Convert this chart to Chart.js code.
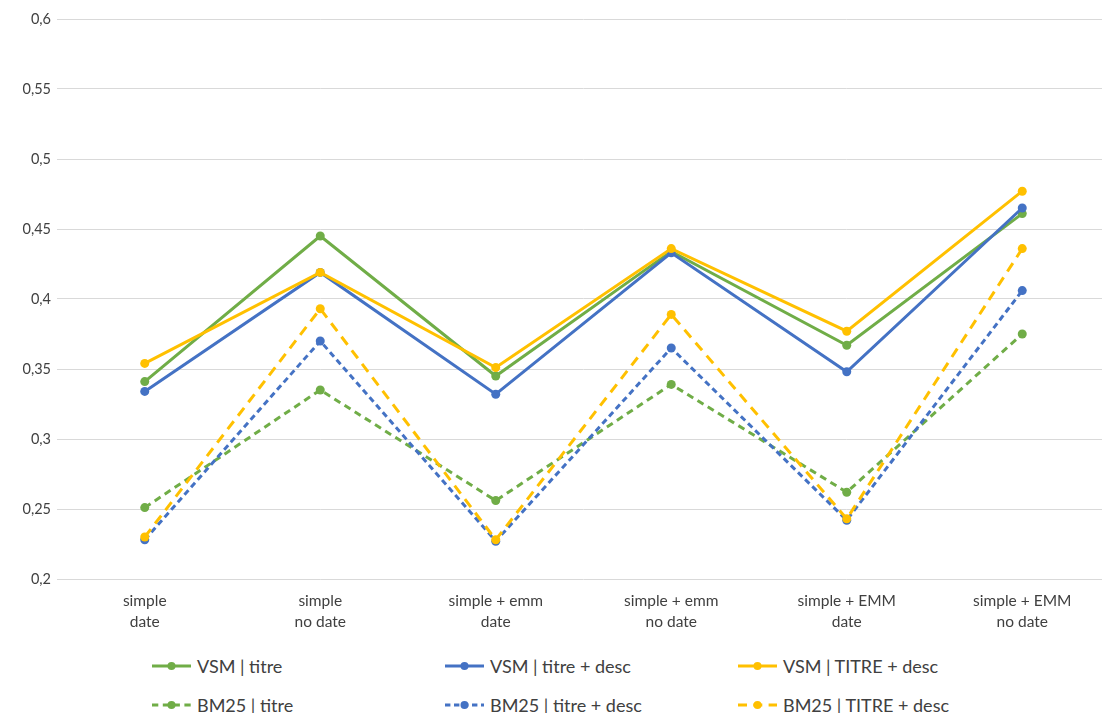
<!DOCTYPE html>
<html lang="fr">
<head>
    <meta charset="UTF-8">
    <title>VSM vs BM25</title>
    <script src="https://cdn.jsdelivr.net/npm/chart.js"></script>
    <style>
        body {
            margin: 0;
            padding: 0;
            background-color: #fff;
            overflow: hidden;
            font-family: Lato, "Open Sans", sans-serif;
        }
        #zone {
            position: relative;
            width: 1102px;
            height: 713px;
            overflow: hidden;
        }
        #graphique {
            position: absolute;
            left: 0;
            top: 0;
        }
        #legende {
            position: absolute;
            left: 152px;
            top: 655px;
            display: grid;
            grid-template-columns: 293px 293px 293px;
            row-gap: 17px;
        }
        .item {
            display: flex;
            align-items: center;
            height: 22px;
            font-size: 18px;
            color: #404040;
            white-space: nowrap;
        }
        .item svg {
            margin-right: 6px;
        }
    </style>
</head>
<body>
<div id="zone">
    <canvas id="graphique" width="1115" height="645"></canvas>
    <div id="legende"></div>
</div>

<script>
    // Catégories (deux lignes par étiquette)
    const categories = [
        ['simple', 'date'],
        ['simple', 'no date'],
        ['simple + emm', 'date'],
        ['simple + emm', 'no date'],
        ['simple + EMM', 'date'],
        ['simple + EMM', 'no date']
    ];

    // Scores par configuration
    const vsmTitre = [0.341, 0.445, 0.345, 0.434, 0.367, 0.461];
    const vsmTitreDesc = [0.334, 0.419, 0.332, 0.433, 0.348, 0.465];
    const vsmTitreMajDesc = [0.354, 0.419, 0.351, 0.436, 0.377, 0.477];
    const bm25Titre = [0.251, 0.335, 0.256, 0.339, 0.262, 0.375];
    const bm25TitreDesc = [0.228, 0.370, 0.227, 0.365, 0.242, 0.406];
    const bm25TitreMajDesc = [0.230, 0.393, 0.228, 0.389, 0.243, 0.436];

    const vert = '#70AD47';
    const bleu = '#4472C4';
    const jaune = '#FFC000';

    function serie(label, data, couleur, tirets, ordre) {
        return {
            label: label,
            data: data,
            borderColor: couleur,
            backgroundColor: couleur,
            borderWidth: 3,
            borderDash: tirets,
            pointRadius: 4.5,
            pointBorderWidth: 0,
            pointHoverRadius: 5,
            tension: 0,
            fill: false,
            order: ordre
        };
    }

    const series = [
        serie('VSM | titre', vsmTitre, vert, [], 6),
        serie('VSM | titre + desc', vsmTitreDesc, bleu, [], 5),
        serie('VSM | TITRE + desc', vsmTitreMajDesc, jaune, [], 4),
        serie('BM25 | titre', bm25Titre, vert, [7, 5], 3),
        serie('BM25 | titre + desc', bm25TitreDesc, bleu, [6, 4], 2),
        serie('BM25 | TITRE + desc', bm25TitreMajDesc, jaune, [10, 7], 1)
    ];

    const famille = 'Lato, "Open Sans", sans-serif';

    const graphique = new Chart(document.getElementById('graphique'), {
        type: 'line',
        data: { labels: categories, datasets: series },
        options: {
            responsive: false,
            animation: false,
            layout: { padding: { top: 19, right: 0, left: 0, bottom: 0 } },
            plugins: {
                legend: { display: false },
                tooltip: { enabled: false }
            },
            scales: {
                x: {
                    offset: true,
                    grid: { display: false, drawTicks: false },
                    border: { display: false },
                    ticks: {
                        color: '#404040',
                        font: { family: famille, size: 15.5, lineHeight: 1.355 },
                        padding: 11,
                        maxRotation: 0,
                        autoSkip: false
                    },
                    afterFit: (scale) => { scale.height = 66; }
                },
                y: {
                    min: 0.2,
                    max: 0.6,
                    grid: { color: '#D9D9D9', lineWidth: 1, drawTicks: false },
                    border: { display: false },
                    ticks: {
                        stepSize: 0.05,
                        color: '#404040',
                        font: { family: famille, size: 14.5 },
                        padding: 6,
                        callback: (v) => String(Number(v.toFixed(2))).replace('.', ',')
                    },
                    afterFit: (scale) => { scale.width = 57; }
                }
            }
        }
    });

    // Légende sur 3 colonnes, construite à partir des séries
    const legende = document.getElementById('legende');
    series.forEach(ds => {
        const item = document.createElement('div');
        item.className = 'item';
        const dash = ds.borderDash.length ? ds.borderDash.map(d => d * 0.9).join(',') : 'none';
        item.innerHTML =
            '<svg width="39" height="12" viewBox="0 0 39 12">' +
            '<line x1="0" y1="6" x2="39" y2="6" stroke="' + ds.borderColor + '" stroke-width="3" stroke-dasharray="' + dash + '"/>' +
            '<circle cx="19.5" cy="6" r="4" fill="' + ds.borderColor + '"/></svg>';
        const texte = document.createElement('span');
        texte.textContent = ds.label;
        item.appendChild(texte);
        legende.appendChild(item);
    });
</script>
</body>
</html>
